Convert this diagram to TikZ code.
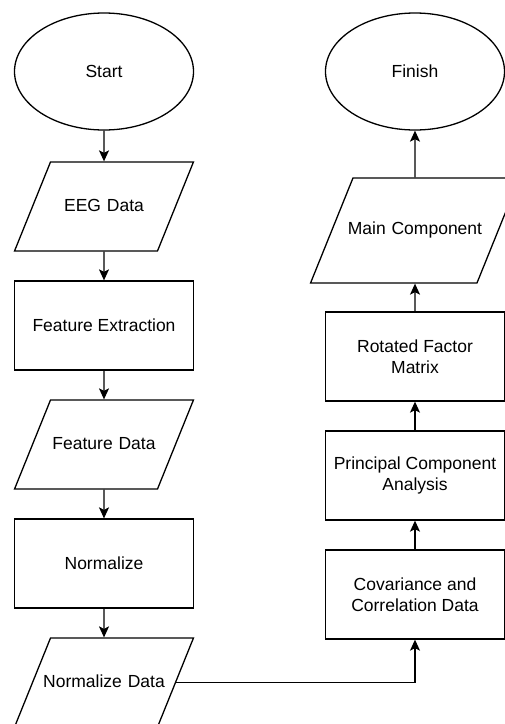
\documentclass[tikz,border=0pt]{standalone}
\usepackage{fontspec}
\setmainfont{Liberation Sans}
\usepackage{tikz}
\usetikzlibrary{shapes.geometric,arrows.meta,positioning}

\tikzset{
        base/.style={draw, line width=1.3pt, align=center,
                font=\fontsize{17.5}{20.5}\selectfont},
        terminal/.style={base, ellipse, minimum width=179pt, minimum height=117pt},
        process/.style={base, rectangle, minimum width=179pt, minimum height=89pt},
        io/.style={base, trapezium, trapezium left angle=68, trapezium right angle=112,
                text width=143pt, text height=13pt, text depth=4pt,
                inner xsep=-18pt, inner ysep=36pt},
        flow/.style={line width=1.3pt, -{Stealth[length=11pt,width=10pt,inset=2.5pt]}}
}

\begin{document}
\begin{tikzpicture}[node distance=28.7pt]
        \useasboundingbox (0,0) rectangle (505pt,-724pt);

        % left column, top to bottom
        \node[terminal] (start) at (104pt,-71.5pt) {Start};
        \node[io, below=30.7pt of start] (eeg) {EEG Data};
        \node[process, below=of eeg] (featext) {Feature Extraction};
        \node[io, below=of featext] (featdata) {Feature Data};
        \node[process, below=of featdata] (norm) {Normalize};
        \node[io, below=of norm] (normdata) {Normalize Data};

        % right column, bottom to top
        \node[process] (covar) at (415pt,-594.5pt) {Covariance and\\Correlation Data};
        \node[process, above=of covar] (pca) {Principal Component\\Analysis};
        \node[process, above=of pca] (rotfac) {Rotated Factor\\Matrix};
        \node[io, above=27.7pt of rotfac, text width=166pt, inner xsep=-21pt, inner ysep=44pt] (maincomp) {Main Component};
        \node[terminal] (finish) at (415pt,-71.5pt) {Finish};

        \draw[flow] (start) -- (eeg);
        \draw[flow] (eeg) -- (featext);
        \draw[flow] (featext) -- (featdata);
        \draw[flow] (featdata) -- (norm);
        \draw[flow] (norm) -- (normdata);
        \draw[flow] (normdata.east) -| (covar);
        \draw[flow] (covar) -- (pca);
        \draw[flow] (pca) -- (rotfac);
        \draw[flow] (rotfac) -- (maincomp);
        \draw[flow] (maincomp) -- (finish);
\end{tikzpicture}
\end{document}
